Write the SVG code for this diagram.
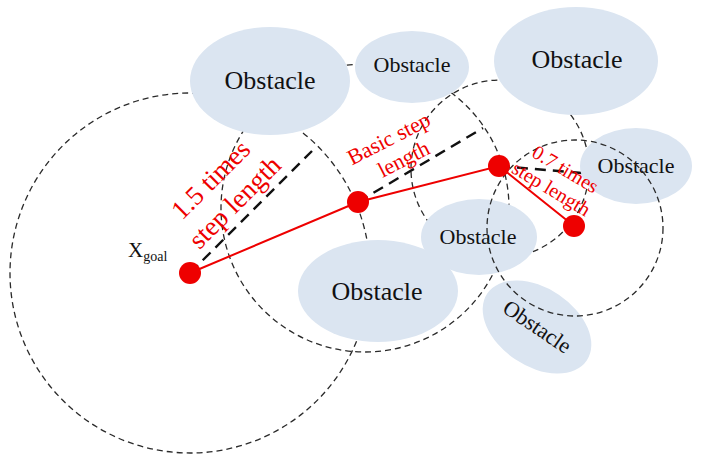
<svg xmlns="http://www.w3.org/2000/svg" width="702" height="463" viewBox="0 0 702 463">
  <style>
    .range { fill: none; stroke: #2a2a2a; stroke-width: 1.3; stroke-dasharray: 6 4; }
    .radius { fill: none; stroke: #111; stroke-width: 2.4; stroke-dasharray: 11 7; }
    .obs { fill: #dbe5f1; }
    .olabel { font-family: "Liberation Serif", "Times New Roman", serif; fill: #111; text-anchor: middle; }
    .path { fill: none; stroke: #ee0000; stroke-width: 2; }
    .pt { fill: #ee0000; }
    .note { font-family: "Liberation Serif", "Times New Roman", serif; fill: #ee0000; text-anchor: middle; }
  </style>

  <!-- search ranges behind the obstacles -->
  <g id="ranges-back">
    <circle class="range" cx="190" cy="273" r="180"/>
    <circle class="range" cx="365" cy="208" r="144"/>
    <circle class="range" cx="500" cy="169" r="89"/>
  </g>

  <!-- radius markers -->
  <g id="radius-lines">
    <line class="radius" x1="190" y1="273" x2="312" y2="151"/>
    <line class="radius" x1="358" y1="202" x2="483" y2="128"/>
    <line class="radius" x1="499" y1="166" x2="582" y2="173"/>
  </g>

  <!-- obstacles -->
  <g id="obstacle-1">
    <ellipse class="obs" cx="270" cy="81" rx="80" ry="54"/>
    <text class="olabel" x="270" y="89" font-size="26">Obstacle</text>
  </g>
  <g id="obstacle-2">
    <ellipse class="obs" cx="412" cy="67" rx="57" ry="36"/>
    <text class="olabel" x="412" y="72" font-size="22">Obstacle</text>
  </g>
  <g id="obstacle-3">
    <ellipse class="obs" cx="576" cy="61" rx="82" ry="54"/>
    <text class="olabel" x="577" y="68" font-size="26">Obstacle</text>
  </g>
  <g id="obstacle-4">
    <ellipse class="obs" cx="636" cy="166" rx="56" ry="38"/>
    <text class="olabel" x="636" y="173" font-size="22">Obstacle</text>
  </g>
  <g id="obstacle-5">
    <ellipse class="obs" cx="479" cy="237" rx="58" ry="38"/>
    <text class="olabel" x="478" y="244" font-size="22">Obstacle</text>
  </g>
  <g id="obstacle-6">
    <ellipse class="obs" cx="378" cy="291" rx="80" ry="51"/>
    <text class="olabel" x="377" y="300" font-size="26">Obstacle</text>
  </g>
  <g id="obstacle-7" transform="translate(537 327) rotate(34)">
    <ellipse class="obs" cx="0" cy="0" rx="60" ry="39"/>
    <text class="olabel" x="0" y="7" font-size="22">Obstacle</text>
  </g>

  <!-- range drawn over the obstacles -->
  <g id="ranges-front">
    <circle class="range" cx="575" cy="228" r="88"/>
  </g>

  <!-- planned path -->
  <g id="connectors">
    <polyline class="path" points="190,273 358,202 499,166 574,226"/>
  </g>
  <g id="x-goal">
    <circle class="pt" cx="190" cy="273" r="11"/>
    <text x="128" y="257" font-family="Liberation Serif, Times New Roman, serif" font-size="21" fill="#111">X<tspan font-size="14" dy="4">goal</tspan></text>
  </g>
  <g id="node-1"><circle class="pt" cx="358" cy="202" r="11"/></g>
  <g id="node-2"><circle class="pt" cx="499" cy="166" r="11"/></g>
  <g id="node-3"><circle class="pt" cx="574" cy="226" r="11"/></g>

  <!-- step length notes -->
  <g id="note-long" transform="translate(217 186) rotate(-45)">
    <text class="note" x="0" y="0" font-size="27">1.5 times</text>
    <text class="note" x="1" y="33" font-size="27">step length</text>
  </g>
  <g id="note-basic" transform="translate(392 145) rotate(-27)">
    <text class="note" x="0" y="0" font-size="22">Basic step</text>
    <text class="note" x="4" y="25" font-size="22">length</text>
  </g>
  <g id="note-short" transform="translate(562 175) rotate(31)">
    <text class="note" x="0" y="0" font-size="20">0.7 times</text>
    <text class="note" x="-2" y="24" font-size="20">step length</text>
  </g>
</svg>
